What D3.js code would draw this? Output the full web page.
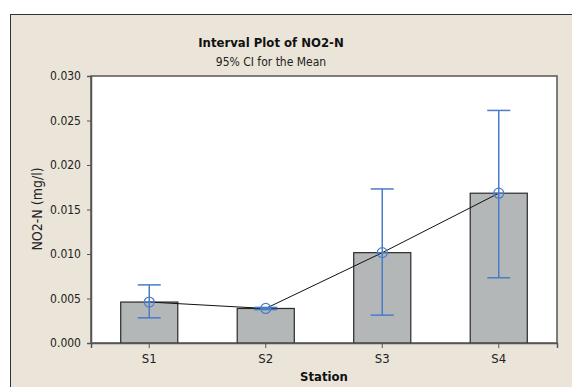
<!DOCTYPE html>
<html>
<head>
<meta charset="utf-8">
<script src="https://cdn.jsdelivr.net/npm/d3@7"></script>
<style>
  body { margin: 0; background: #fff; }
  svg { display: block; font-family: "DejaVu Sans Condensed", "DejaVu Sans", sans-serif; font-stretch: condensed; }
</style>
</head>
<body>
<script>
'use strict';
// chart values
const stations = ["S1", "S2", "S3", "S4"];
const means = [0.00460, 0.00388, 0.01015, 0.01683];
const ciLower = [0.00283, 0.00375, 0.00313, 0.00733];
const ciUpper = [0.00653, 0.00400, 0.01731, 0.02613];
const yTicks = [0, 0.005, 0.010, 0.015, 0.020, 0.025, 0.030];

(function() {
    let width = 572, height = 387;
    let plot = {left: 91, right: 557, top: 76, bottom: 343};

    let svg = d3.select('body').append('svg')
        .attr('width', width)
        .attr('height', height);

    // beige panel
    svg.append('rect')
        .attr('x', 10.5).attr('y', 14.5)
        .attr('width', width).attr('height', height)
        .attr('fill', '#ebe5d9')
        .attr('stroke', '#333').attr('stroke-width', 1);

    // plot area
    svg.append('rect')
        .attr('x', plot.left).attr('y', plot.top)
        .attr('width', plot.right - plot.left).attr('height', plot.bottom - plot.top)
        .attr('fill', '#fff')
        .attr('stroke', '#555').attr('stroke-width', 1.5);

    let x = d3.scaleBand()
        .domain(stations)
        .range([plot.left, plot.right])
        .padding(0);

    let y = d3.scaleLinear()
        .domain([0, 0.030])
        .range([plot.bottom, plot.top]);

    let barW = x.bandwidth() * 0.49;
    let cx = (d) => x(d) + x.bandwidth() / 2;

    // bars = means
    svg.selectAll('.bar')
        .data(stations)
        .enter()
        .append('rect')
        .attr('class', 'bar')
        .attr('x', (d) => cx(d) - barW / 2)
        .attr('y', (d, i) => y(means[i]))
        .attr('width', barW)
        .attr('height', (d, i) => y(0) - y(means[i]))
        .attr('fill', '#b4b7b8')
        .attr('stroke', '#2a2a2a')
        .attr('stroke-width', 1.2);

    // axes
    let xAxis = d3.axisBottom(x).tickSize(5).tickPadding(6);
    let gx = svg.append('g')
        .attr('transform', 'translate(0,' + plot.bottom + ')')
        .call(xAxis);
    let yAxis = d3.axisLeft(y).tickValues(yTicks).tickFormat(d3.format('.3f')).tickSize(4).tickPadding(6);
    let gy = svg.append('g')
        .attr('transform', 'translate(' + plot.left + ',0)')
        .call(yAxis);
    [gx, gy].forEach((g) => {
        g.attr('font-family', null);
        g.select('.domain').attr('stroke', '#555').attr('stroke-width', 1.5);
        g.selectAll('.tick line').attr('stroke', '#555');
        g.selectAll('.tick text').attr('fill', '#222');
    });
    gx.selectAll('.tick text').style('font-size', '13px');
    gy.selectAll('.tick text').style('font-size', '12px');

    // connect line through means
    let line = d3.line()
        .x((d) => cx(d))
        .y((d, i) => y(means[i]));
    svg.append('path')
        .datum(stations)
        .attr('d', line)
        .attr('fill', 'none')
        .attr('stroke', '#111')
        .attr('stroke-width', 1);

    // CI intervals
    let blue = '#4a7cc8';
    let cap = 11.5;
    let ci = svg.append('g').attr('stroke', blue).attr('stroke-width', 1.5).attr('fill', 'none');
    stations.forEach((s, i) => {
        let xc = cx(s);
        ci.append('line').attr('x1', xc).attr('x2', xc).attr('y1', y(ciLower[i])).attr('y2', y(ciUpper[i]));
        ci.append('line').attr('x1', xc - cap).attr('x2', xc + cap).attr('y1', y(ciLower[i])).attr('y2', y(ciLower[i]));
        ci.append('line').attr('x1', xc - cap).attr('x2', xc + cap).attr('y1', y(ciUpper[i])).attr('y2', y(ciUpper[i]));
        // circle with cross symbol
        let cy = y(means[i]);
        ci.append('circle').attr('cx', xc).attr('cy', cy).attr('r', 5).attr('stroke-width', 1.2);
        ci.append('line').attr('x1', xc - 5).attr('x2', xc + 5).attr('y1', cy).attr('y2', cy).attr('stroke-width', 1.2);
    });

    // titles and labels
    svg.append('text')
        .attr('x', 271).attr('y', 47)
        .attr('text-anchor', 'middle')
        .style('font-size', '13px').style('font-weight', 'bold')
        .attr('fill', '#111')
        .text('Interval Plot of NO2-N');
    svg.append('text')
        .attr('x', 271).attr('y', 65.5)
        .attr('text-anchor', 'middle')
        .style('font-size', '12px')
        .attr('fill', '#222')
        .text('95% CI for the Mean');
    svg.append('text')
        .attr('x', (plot.left + plot.right) / 2).attr('y', 381)
        .attr('text-anchor', 'middle')
        .style('font-size', '13px').style('font-weight', 'bold')
        .attr('fill', '#111')
        .text('Station');
    svg.append('text')
        .attr('transform', 'translate(42,' + 209 + ')rotate(-90)')
        .attr('text-anchor', 'middle')
        .style('font-size', '14px')
        .attr('fill', '#222')
        .text('NO2-N (mg/l)');
})();
</script>
</body>
</html>
